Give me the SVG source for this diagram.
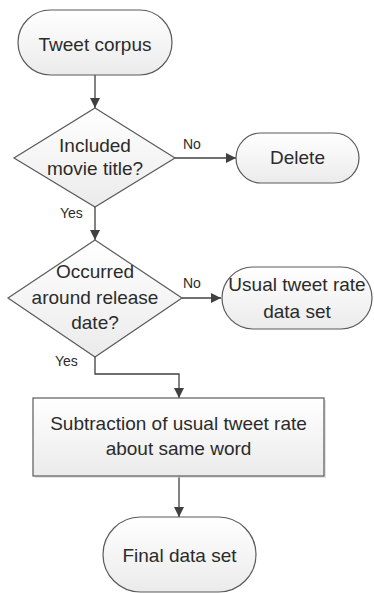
<svg xmlns="http://www.w3.org/2000/svg" width="374" height="593" viewBox="0 0 374 593">
<defs>
<linearGradient id="g" x1="0" y1="0" x2="0" y2="1">
<stop offset="0" stop-color="#ffffff"/>
<stop offset="1" stop-color="#ebebeb"/>
</linearGradient>
<marker id="ah" viewBox="0 0 10 10" refX="10" refY="5" markerWidth="10" markerHeight="10" markerUnits="userSpaceOnUse" orient="auto">
<path d="M0,0 L10,5 L0,10 z" fill="#404040"/>
</marker>
</defs>
<style>
.s{fill:url(#g);stroke:#5a5a5a;stroke-width:1.2}
.sh{fill:#d0d0d0;stroke:none;opacity:0.6}
.t{font-family:"Liberation Sans",Arial,sans-serif;font-size:19px;fill:#2b2b2b;text-anchor:middle}
.l{font-family:"Liberation Sans",Arial,sans-serif;font-size:14px;fill:#2b2b2b}
.c{fill:none;stroke:#404040;stroke-width:1.3}
</style>
<rect width="374" height="593" fill="#ffffff"/>
<g id="connectors">
<line class="c" x1="95" y1="75" x2="95" y2="108" marker-end="url(#ah)"/>
<line class="c" x1="175" y1="158" x2="236" y2="158" marker-end="url(#ah)"/>
<line class="c" x1="95" y1="207" x2="95" y2="240" marker-end="url(#ah)"/>
<line class="c" x1="182" y1="298" x2="221" y2="298" marker-end="url(#ah)"/>
<polyline class="c" points="95,357 95,374 179,374 179,398" marker-end="url(#ah)"/>
<line class="c" x1="179" y1="476" x2="179" y2="517" marker-end="url(#ah)"/>
<text class="l" x="183" y="149">No</text>
<text class="l" x="60" y="218">Yes</text>
<text class="l" x="183" y="288">No</text>
<text class="l" x="55" y="366">Yes</text>
</g>
<g id="tweet-corpus">
<rect class="s" x="18" y="10" width="154" height="65" rx="32.5"/>
<text class="t" x="95" y="51">Tweet corpus</text>
</g>
<g id="included-movie-title">
<polygon class="s" points="95,108 175,158 95,207 14,158"/>
<text class="t" x="95" y="152">Included</text>
<text class="t" x="95" y="175">movie title?</text>
</g>
<g id="delete">
<rect class="s" x="236" y="133" width="123" height="50" rx="25"/>
<text class="t" x="297.5" y="164">Delete</text>
</g>
<g id="occurred-around-release-date">
<polygon class="s" points="95,240 182,298 95,357 8,298"/>
<text class="t" x="95" y="278">Occurred</text>
<text class="t" x="95" y="304">around release</text>
<text class="t" x="95" y="329">date?</text>
</g>
<g id="usual-tweet-rate">
<rect class="s" x="222" y="267" width="150" height="62" rx="31"/>
<text class="t" x="297" y="291">Usual tweet rate</text>
<text class="t" x="297" y="318">data set</text>
</g>
<g id="subtraction">
<rect class="sh" x="35" y="400" width="291" height="78"/>
<rect class="s" x="33" y="398" width="291" height="78"/>
<text class="t" x="178.5" y="430">Subtraction of usual tweet rate</text>
<text class="t" x="178.5" y="455">about same word</text>
</g>
<g id="final-data-set">
<rect class="s" x="103" y="517" width="153" height="75" rx="37.5"/>
<text class="t" x="179.5" y="562">Final data set</text>
</g>
</svg>
